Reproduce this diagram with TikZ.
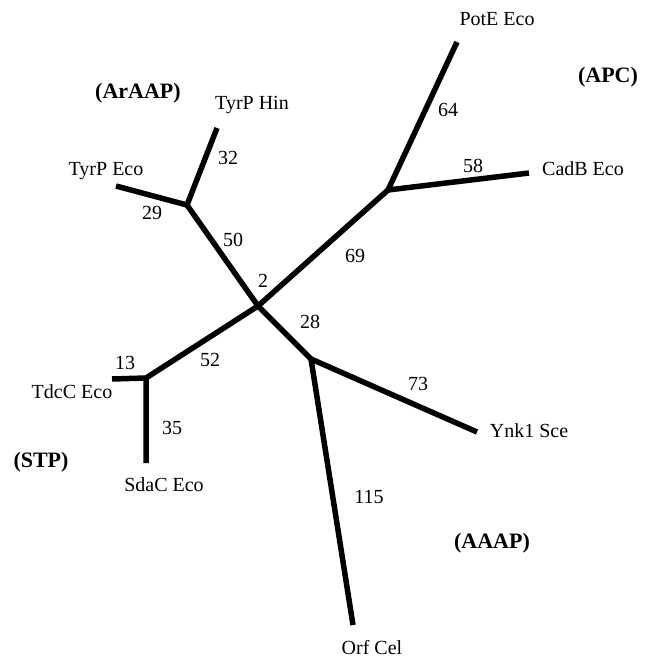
\documentclass[tikz,border=0pt]{standalone}
\usepackage{fontspec}
\setmainfont{Liberation Serif}
\begin{document}
\begin{tikzpicture}[x=1pt,y=-1pt,
  branch/.style={line width=5.5pt,line join=round,line cap=butt},
  lab/.style={font=\fontsize{20}{23}\selectfont,inner sep=0pt},
  fam/.style={font=\fontsize{22}{25}\selectfont\bfseries,inner sep=0pt}]
\useasboundingbox (0,0) rectangle (652,658);
% junctions
\coordinate (C) at (258,306);
\coordinate (A) at (187,205);
\coordinate (P) at (388,190);
\coordinate (S) at (146,378);
\coordinate (Q) at (311,359);
% leaves
\coordinate (tyrHin) at (217,128);
\coordinate (tyrEco) at (116,186);
\coordinate (potE) at (457,42);
\coordinate (cadB) at (529,173);
\coordinate (tdc) at (112,379);
\coordinate (sda) at (146,463);
\coordinate (ynk) at (477,432);
\coordinate (orf) at (353,625);
% branches
\draw[branch] (tyrEco) -- (A) -- (tyrHin);
\draw[branch] (A) -- (C) -- (P);
\draw[branch] (potE) -- (P) -- (cadB);
\draw[branch] (tdc) -- (S) -- (sda);
\draw[branch] (S) -- (C) -- (Q);
\draw[branch] (ynk) -- (Q) -- (orf);
% leaf names
\node[lab] (nTyrHin) at (252,105) {TyrP Hin};
\node[lab] (nTyrEco) at (106,171) {TyrP Eco};
\node[lab] (nPotE) at (497,19) {PotE Eco};
\node[lab] (nCadB) at (583,169) {CadB Eco};
\node[lab] (nTdc) at (72,392) {TdcC Eco};
\node[lab] (nSda) at (164,485) {SdaC Eco};
\node[lab] (nYnk) at (529,431) {Ynk1 Sce};
\node[lab] (nOrf) at (372,648) {Orf Cel};
% branch lengths
\node[lab] (l32) at (228,158) {32};
\node[lab] (l29) at (152,213) {29};
\node[lab] (l50) at (233,240) {50};
\node[lab] (l2) at (263,281) {2};
\node[lab] (l64) at (448,110) {64};
\node[lab] (l58) at (473,166) {58};
\node[lab] (l69) at (355,256) {69};
\node[lab] (l13) at (125,363) {13};
\node[lab] (l52) at (210,360) {52};
\node[lab] (l35) at (172,428) {35};
\node[lab] (l28) at (310,322) {28};
\node[lab] (l73) at (418,384) {73};
\node[lab] (l115) at (369,497) {115};
% family names
\node[fam] (fAr) at (138,93) {(ArAAP)};
\node[fam] (fAPC) at (608,77) {(APC)};
\node[fam] (fSTP) at (41,462) {(STP)};
\node[fam] (fAAAP) at (492,543) {(AAAP)};
\end{tikzpicture}
\end{document}
